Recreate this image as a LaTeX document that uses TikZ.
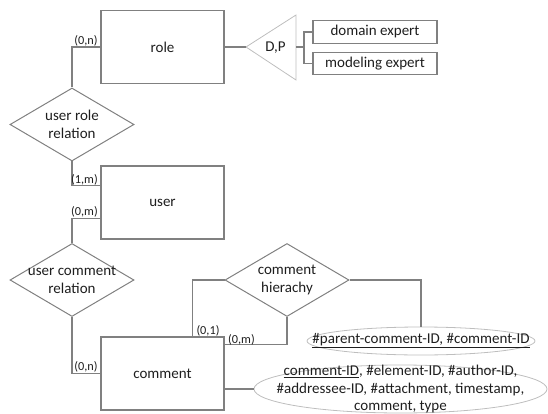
\documentclass[tikz,border=0pt]{standalone}
\usepackage{fontspec}
\setmainfont{Carlito}
\usetikzlibrary{shapes.geometric,calc}
\definecolor{edgegray}{RGB}{128,128,128}
\definecolor{softgray}{RGB}{190,190,190}
\definecolor{ink}{RGB}{30,30,30}
\newcommand\erfont{\fontsize{15}{17.5}\selectfont}
\tikzset{
  entity/.style={draw=edgegray,line width=1.1pt,minimum width=123pt,minimum height=73pt,inner sep=0pt,text=ink,font=\erfont},
  subentity/.style={draw=edgegray,line width=1.1pt,minimum width=124pt,minimum height=22.5pt,inner sep=0pt,text=ink,font=\erfont},
  inside/.style={label={[text=ink,inner sep=0pt,align=center,font=\erfont]center:#1}},
  relation/.style={diamond,draw=edgegray,line width=1pt,minimum width=124pt,minimum height=73pt,inner sep=0pt},
  attrib/.style={ellipse,draw=softgray,line width=0.8pt,inner sep=0pt},
  link/.style={draw=edgegray,line width=1.1pt},
  card/.style={text=ink,inner sep=0pt,font=\fontsize{12.3}{14}\selectfont},
  plain/.style={text=ink,inner sep=0pt,font=\erfont}
}
\begin{document}
\begin{tikzpicture}[x=1pt,y=-1pt]
\useasboundingbox (0,0) rectangle (548,414);

% entities
\node[entity] (role) at (162.5,47) {role};
\node[entity] (user) at (162.5,202.5) {user};
\node[entity] (comment) at (162.5,373.5) {comment};

% specialisation of role
\coordinate (triapex) at (246,47);
\coordinate (tribase) at (296,47);
\draw[softgray,line width=0.8pt] (triapex) -- (296,15) -- (296,80) -- cycle;
\node[plain] (dp) at (275.5,48) {D,P};
\node[subentity] (domain) at (375,32) {domain expert};
\node[subentity] (modeling) at (375,63.5) {modeling expert};
\draw[link] (role.east) -- (triapex);
\draw[link] (tribase) -- ++(8,0) |- (domain.west);
\draw[link] (tribase) -- ++(8,0) |- (modeling.west);

% relationships
\node[relation,inside={user role\\relation}] (urr) at (72,124.5) {};
\node[relation,inside={user comment\\relation}] (ucr) at (72,280) {};
\node[relation,inside={comment\\hierachy}] (chr) at (287,280) {};

% attributes
\node[attrib,minimum width=228pt,minimum height=28pt,
  inside={\underline{\#parent-comment-ID, \#comment-ID}}] (pk) at (421,341) {};
\node[attrib,minimum width=293pt,minimum height=48pt,
  inside={\underline{comment-ID}, \#element-ID, \#author-ID,\\\#addressee-ID, \#attachment, timestamp,\\comment, type}] (attr) at (400.5,389) {};

% connectors
\draw[link] (urr.north) |- (role.west);
\draw[link] (urr.south) |- ($(user.north west)+(0,20)$);
\draw[link] (ucr.north) |- ($(user.north west)+(0,53)$);
\draw[link] (ucr.south) |- (comment.west);
\draw[link] (chr.west) -| ($(comment.north west)+(92,0)$);
\draw[link] (chr.south) |- ($(comment.north east)+(0,8)$);
\draw[link] (chr.east) -| (pk.north);
\draw[link] (attr.west) -- (attr.west -| comment.east);

% cardinalities
\node[card] (c1) at (86,40.5) {(0,n)};
\node[card] (c2) at (84.5,180) {(1,m)};
\node[card] (c3) at (84.5,212) {(0,m)};
\node[card] (c4) at (86,367) {(0,n)};
\node[card] (c5) at (208,331) {(0,1)};
\node[card] (c6) at (241.5,340) {(0,m)};
\end{tikzpicture}
\end{document}
